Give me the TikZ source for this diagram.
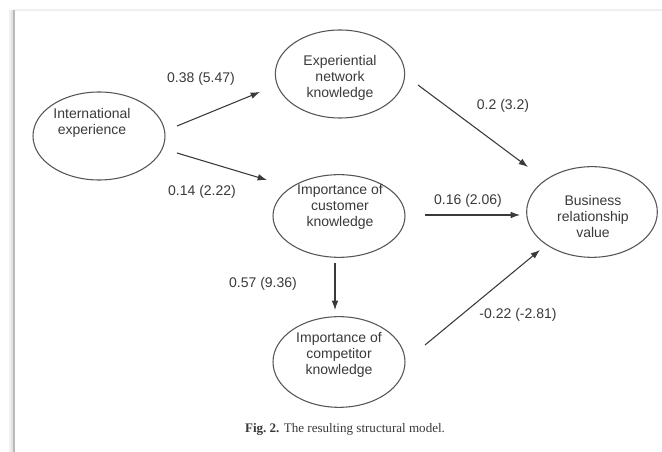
\documentclass[tikz,border=0pt]{standalone}
\usepackage{fontspec}
\setmainfont{Liberation Sans}
\newfontfamily\capfont{Liberation Serif}
\usetikzlibrary{shapes.geometric,arrows.meta}
\definecolor{inkgray}{HTML}{3A3A3A}
\definecolor{linegray}{HTML}{555555}
\tikzset{
  construct/.style={ellipse, draw=linegray, line width=0.8pt, inner sep=0pt,
    minimum width=99pt, minimum height=66pt},
  ctext/.style={align=center, text=inkgray, font=\fontsize{10.5}{12}\selectfont, inner sep=0pt},
  path coef/.style={text=inkgray, font=\fontsize{10.5}{12}\selectfont, inner sep=0pt},
  arr/.style={draw=inkgray, line width=0.8pt, -{Latex[length=7pt,width=5pt]}},
}
\begin{document}
\begin{tikzpicture}[x=0.75pt, y=-0.75pt]
  \useasboundingbox (0,0) rectangle (662,452);
  % page panel with its edge shadow
  \fill[white] (0,0) rectangle (662,452);
  \draw[gray!12, line width=1.5pt] (14,10) -- (662,10);
  \fill[gray!10] (9,10) rectangle (13,452);
  \fill[gray!22] (11,10) rectangle (13,452);
  \draw[gray!55, line width=1.2pt] (14,10) -- (14,452);

  % constructs
  \node[construct, minimum width=99pt, minimum height=66pt,
        label={[ctext, shift={(-7,-13)}]center:International\\experience}] (ie) at (99,136) {};
  \node[construct, minimum width=97pt, minimum height=66pt,
        label={[ctext, shift={(0,4)}]center:Experiential\\network\\knowledge}] (enk) at (340,74) {};
  \node[construct, minimum width=99pt, minimum height=62pt,
        label={[ctext, shift={(1,-9)}]center:Importance of\\customer\\knowledge}] (ick) at (339,216) {};
  \node[construct, minimum width=99pt, minimum height=68pt,
        label={[ctext, shift={(0,-7)}]center:Importance of\\competitor\\knowledge}] (icomp) at (339,362) {};
  \node[construct, minimum width=98pt, minimum height=68pt,
        label={[ctext, shift={(1,4)}]center:Business\\relationship\\value}] (brv) at (592,212) {};

  % structural paths
  \draw[arr] ([shift={(78,-10)}]ie.center) -- ([shift={(-80,18)}]enk.center);
  \draw[arr] ([shift={(78,17)}]ie.center) -- ([shift={(-72,-36)}]ick.center);
  \draw[arr] ([shift={(78,11)}]enk.center) -- ([shift={(-64,-45)}]brv.center);
  \draw[arr] ([shift={(86,-1)}]ick.center) -- ([shift={(-72,3)}]brv.center);
  \draw[arr] ([shift={(-4,47)}]ick.center) -- ([shift={(-4,-52)}]icomp.center);
  \draw[arr] ([shift={(86,-17)}]icomp.center) -- ([shift={(-52,38)}]brv.center);

  % path coefficients (t-values)
  \node[path coef] (c1) at (201,79) {0.38 (5.47)};
  \node[path coef] (c2) at (202,192) {0.14 (2.22)};
  \node[path coef] (c3) at (503,106) {0.2 (3.2)};
  \node[path coef] (c4) at (468,201) {0.16 (2.06)};
  \node[path coef] (c5) at (263,284) {0.57 (9.36)};
  \node[path coef] (c6) at (518,315) {-0.22 (-2.81)};

  % caption
  \node[text=inkgray, font=\capfont\fontsize{9.8}{11}\selectfont, inner sep=0pt] (cap) at (345,429)
    {\textbf{Fig.\ 2.} The resulting structural model.};
\end{tikzpicture}
\end{document}
